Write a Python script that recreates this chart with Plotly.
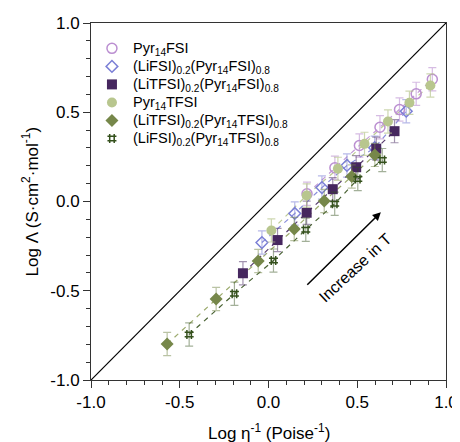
import plotly.graph_objects as go

# ---- data (log eta^-1, log Lambda) ----
names = [
    "Pyr<sub>14</sub>FSI",
    "(LiFSI)<sub>0.2</sub>(Pyr<sub>14</sub>FSI)<sub>0.8</sub>",
    "(LiTFSI)<sub>0.2</sub>(Pyr<sub>14</sub>FSI)<sub>0.8</sub>",
    "Pyr<sub>14</sub>TFSI",
    "(LiTFSI)<sub>0.2</sub>(Pyr<sub>14</sub>TFSI)<sub>0.8</sub>",
    "(LiFSI)<sub>0.2</sub>(Pyr<sub>14</sub>TFSI)<sub>0.8</sub>",
]

x_pyr14fsi = [0.217, 0.374, 0.512, 0.628, 0.738, 0.832, 0.923]
y_pyr14fsi = [0.043, 0.189, 0.314, 0.416, 0.515, 0.603, 0.685]

x_lifsi_fsi = [-0.037, 0.148, 0.301, 0.442, 0.598, 0.776]
y_lifsi_fsi = [-0.230, -0.067, 0.078, 0.202, 0.301, 0.506]

x_litfsi_fsi = [-0.144, 0.051, 0.215, 0.362, 0.494, 0.607, 0.710]
y_litfsi_fsi = [-0.402, -0.216, -0.063, 0.069, 0.192, 0.296, 0.394]

x_pyr14tfsi = [0.016, 0.215, 0.391, 0.541, 0.673, 0.794, 0.912]
y_pyr14tfsi = [-0.162, 0.034, 0.183, 0.323, 0.448, 0.553, 0.650]

x_litfsi_tfsi = [-0.571, -0.295, -0.058, 0.145, 0.314, 0.469, 0.599]
y_litfsi_tfsi = [-0.798, -0.546, -0.333, -0.154, 0.003, 0.140, 0.261]

x_lifsi_tfsi = [-0.447, -0.192, 0.028, 0.210, 0.373, 0.503, 0.641]
y_lifsi_tfsi = [-0.745, -0.517, -0.331, -0.158, -0.013, 0.126, 0.232]

err = 0.065
diag = [-1.0, 1.0]
x_ticks = [-1.0, -0.5, 0.0, 0.5, 1.0]
y_ticks = [-1.0, -0.5, 0.0, 0.5, 1.0]

xs = [x_pyr14fsi, x_lifsi_fsi, x_litfsi_fsi, x_pyr14tfsi, x_litfsi_tfsi, x_lifsi_tfsi]
ys = [y_pyr14fsi, y_lifsi_fsi, y_litfsi_fsi, y_pyr14tfsi, y_litfsi_tfsi, y_lifsi_tfsi]

colors = ["#bb8fd1", "#7b7fd6", "#46275f", "#b8c68e", "#76874a", "#34501c"]
line_colors = ["rgba(187,143,209,0.9)", "rgba(123,127,214,0.9)", "rgba(70,39,95,0.9)",
               "rgba(184,198,142,0.95)", "rgba(150,165,100,0.95)", "rgba(52,80,28,0.9)"]
err_colors = ["rgba(187,143,209,0.6)", "rgba(123,127,214,0.55)", "rgba(70,39,95,0.5)",
              "rgba(184,198,142,0.7)", "rgba(118,135,74,0.5)", "rgba(52,80,28,0.45)"]
symbols = ["circle-open", "diamond-open", "square", "circle", "diamond", "hash-open"]
sizes = [10, 9, 10, 10, 10, 9]

FONT = "Liberation Sans, Arial, Helvetica, sans-serif"

# legend layout (fractions of the plot area)
LEG_MARK_X = 0.059
LEG_TEXT_X = 0.114
LEG_TOP = 0.929
LEG_STEP = 0.0505


def marker_style(i):
    mk = dict(symbol=symbols[i], size=sizes[i], color=colors[i])
    if symbols[i].endswith("open"):
        mk["line"] = dict(color=colors[i], width=1.5)
    else:
        mk["line"] = dict(width=0)
    return mk


fig = go.Figure()

fig.add_trace(go.Scatter(x=diag, y=diag, mode="lines",
                         line=dict(color="black", width=1.2), showlegend=False,
                         hoverinfo="skip"))

for i in range(6):
    fig.add_trace(go.Scatter(x=xs[i], y=ys[i], mode="lines",
                             line=dict(color=line_colors[i], width=1.2, dash="5px,5px"),
                             showlegend=False, hoverinfo="skip"))

for i in range(6):
    fig.add_trace(go.Scatter(
        x=xs[i], y=ys[i], mode="markers", name=names[i], marker=marker_style(i),
        showlegend=False,
        error_y=dict(type="constant", value=err, color=err_colors[i],
                     thickness=1.2, width=4),
    ))

# custom legend (tighter spacing than plotly's built-in legend)
for i in range(6):
    ly = LEG_TOP - i * LEG_STEP
    fig.add_trace(go.Scatter(x=[LEG_MARK_X], y=[ly], mode="markers",
                             marker=marker_style(i), xaxis="x2", yaxis="y2",
                             showlegend=False, hoverinfo="skip"))
    fig.add_annotation(x=LEG_TEXT_X, y=ly, xref="paper", yref="paper",
                       xanchor="left", yanchor="middle", showarrow=False,
                       text=names[i], yshift=-1,
                       font=dict(size=14.5, color="black", family=FONT))

fig.add_annotation(x=0.633, y=-0.06, ax=0.21, ay=-0.475,
                   xref="x", yref="y", axref="x", ayref="y",
                   showarrow=True, arrowhead=2, arrowsize=1.1, arrowwidth=1.5,
                   arrowcolor="black", text="")
fig.add_annotation(x=0.49, y=-0.37, xref="x", yref="y", showarrow=False,
                   xanchor="center", yanchor="middle",
                   text="Increase in T", textangle=-43,
                   font=dict(size=16, color="black", family=FONT))

# axis titles
fig.add_annotation(x=-0.172, y=0.5, xref="paper", yref="paper", showarrow=False,
                   xanchor="center", yanchor="middle",
                   text="Log Λ (S·cm<sup>2</sup>·mol<sup>-1</sup>)", textangle=-90,
                   font=dict(size=17, color="black", family=FONT))
fig.add_annotation(x=0.5, y=-0.146, xref="paper", yref="paper", showarrow=False,
                   xanchor="center", yanchor="middle",
                   text="Log η<sup>-1</sup> (Poise<sup>-1</sup>)",
                   font=dict(size=17, color="black", family=FONT))

axis_common = dict(
    showgrid=False, zeroline=False, showline=True, linecolor="#333",
    linewidth=1, mirror=True, ticks="outside", ticklen=7, tickwidth=1,
    tickcolor="#333", tickfont=dict(size=17, color="black", family=FONT),
    minor=dict(ticks="outside", ticklen=4, tickwidth=1, tickcolor="#333", dtick=0.1),
    automargin=False,
)

fig.update_xaxes(range=[-1, 1], tickvals=x_ticks,
                 ticktext=[f"{v:.1f}" for v in x_ticks], **axis_common)
fig.update_yaxes(range=[-1, 1], tickvals=y_ticks,
                 ticktext=[f"{v:.1f}" for v in y_ticks], **axis_common)

fig.update_layout(
    width=452, height=434,
    margin=dict(l=83, r=14, t=15, b=62, autoexpand=False),
    paper_bgcolor="white", plot_bgcolor="white",
    font=dict(family=FONT, size=14, color="black"),
    showlegend=False,
    xaxis2=dict(overlaying="x", range=[0, 1], visible=False, fixedrange=True),
    yaxis2=dict(overlaying="y", range=[0, 1], visible=False, fixedrange=True),
)

fig.write_html("out.html")
